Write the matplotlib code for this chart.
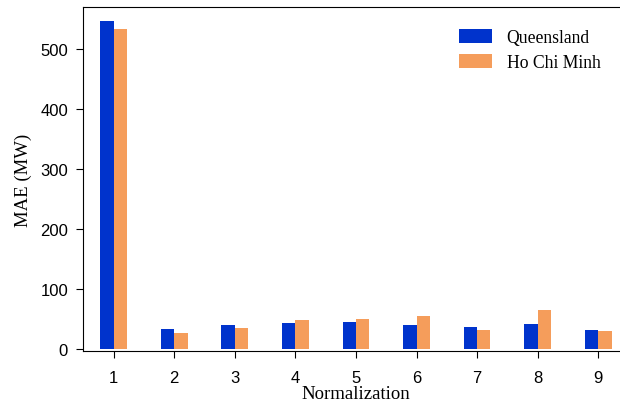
import matplotlib.pyplot as plt
import numpy as np

methods = [1, 2, 3, 4, 5, 6, 7, 8, 9]
queensland = [546, 33.5, 40, 43.5, 45.5, 40, 37, 42, 32]
ho_chi_minh = [533, 27, 35, 48.5, 50.5, 55.5, 32, 65.5, 30]

blue = '#0033cc'
orange = '#f59d5b'
w = 0.22

fig = plt.figure(figsize=(6.2, 4.1), dpi=100)
ax = fig.add_axes([83.4/620, 1 - 351.7/410, (628.5 - 83.4)/620, (351.7 - 8.4)/410])

x = np.array(methods)
ax.bar(x - w, queensland, w, align='edge', color=blue, label='Queensland')
ax.bar(x, ho_chi_minh, w, align='edge', color=orange, label='Ho Chi Minh')

ax.set_xlim(0.5, 9.5)
ax.set_ylim(-3, 569)
ax.set_xticks(methods)
ax.set_yticks([0, 100, 200, 300, 400, 500])

for lab in ax.get_xticklabels() + ax.get_yticklabels():
    lab.set_family('Liberation Sans')
    lab.set_fontsize(12)
ax.tick_params(axis='x', length=5, pad=9)
ax.tick_params(axis='y', length=5, pad=6)

ax.set_xlabel('Normalization', family='Liberation Serif', fontsize=13.5, labelpad=0)
ax.set_ylabel('MAE (MW)', family='Liberation Serif', fontsize=13.5, labelpad=6)

ax.legend(loc='upper left', bbox_to_anchor=(452/620, 1 - 23/410), bbox_transform=fig.transFigure,
          frameon=False, borderaxespad=0, handlelength=1.85, handleheight=0.85,
          handletextpad=0.85, labelspacing=0.45,
          prop={'family': 'Liberation Serif', 'size': 12.7})

fig.savefig('out.png')
